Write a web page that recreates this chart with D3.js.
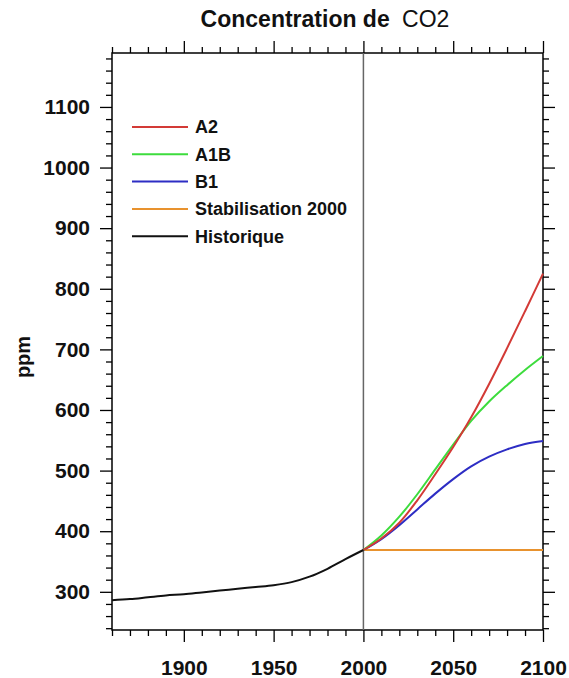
<!DOCTYPE html>
<html>
<head>
<meta charset="utf-8">
<script src="https://cdn.jsdelivr.net/npm/d3@7"></script>
<style>
  body { margin: 0; background: #fff; }
  svg { display: block; font-family: "Liberation Sans", Arial, sans-serif; }
</style>
</head>
<body>
<script>
const width = 569;
const height = 678;
const plot = { left: 112, right: 543, top: 53, bottom: 630 };

// historique
const histYears = [1860, 1870, 1880, 1890, 1900, 1910, 1920, 1930, 1940, 1950, 1960, 1970, 1980, 1990, 2000];
const historique = [286, 288, 291, 294, 296, 299, 302, 305, 308, 311, 316, 325, 338, 354, 369];

// scénarios
const scenYears = [2000, 2010, 2020, 2030, 2040, 2050, 2060, 2070, 2080, 2090, 2100];
const a2 = [369, 388, 414, 451, 494, 539, 588, 643, 702, 763, 825];
const a1b = [369, 393, 424, 461, 502, 543, 582, 614, 641, 666, 689];
const b1 = [369, 387, 410, 436, 462, 486, 507, 523, 535, 544, 549];
const stab = [369, 369, 369, 369, 369, 369, 369, 369, 369, 369, 369];

const xTicks = [1900, 1950, 2000, 2050, 2100];
const yTicks = [300, 400, 500, 600, 700, 800, 900, 1000, 1100];

const legendNames = ["A2", "A1B", "B1", "Stabilisation 2000", "Historique"];
const colors = ["#d33a36", "#3ddc3d", "#2d2dc4", "#e8922e", "#111111"];

const series = [
  { name: "A2", years: scenYears, values: a2 },
  { name: "A1B", years: scenYears, values: a1b },
  { name: "B1", years: scenYears, values: b1 },
  { name: "Stabilisation 2000", years: scenYears, values: stab },
  { name: "Historique", years: histYears, values: historique }
];

const svg = d3.select("body").append("svg")
  .attr("width", width)
  .attr("height", height);

const x = d3.scaleLinear().domain([1860, 2100]).range([plot.left, plot.right]);
const y = d3.scaleLinear().domain([237, 1189]).range([plot.bottom, plot.top]);

const minorX = d3.range(1860, 2101, 10).filter(v => !xTicks.includes(v));
const minorY = d3.range(240, 1189, 20).filter(v => !yTicks.includes(v));

function styleAxis(g) {
  g.select(".domain").remove();
  g.selectAll("line").attr("stroke", "#000").attr("stroke-width", 1.3);
  g.selectAll("text")
    .attr("font-family", "'Liberation Sans', Arial, sans-serif")
    .attr("font-size", 21)
    .attr("font-weight", "bold")
    .attr("fill", "#111");
}

// axes, ticks vers l'extérieur
const axes = [
  { ax: d3.axisBottom, pos: `translate(0,${plot.bottom})`, scale: x, major: xTicks, minor: minorX, labels: true, pad: 18 },
  { ax: d3.axisTop, pos: `translate(0,${plot.top})`, scale: x, major: xTicks, minor: minorX, labels: false },
  { ax: d3.axisLeft, pos: `translate(${plot.left},0)`, scale: y, major: yTicks, minor: minorY, labels: true, pad: 10 },
  { ax: d3.axisRight, pos: `translate(${plot.right},0)`, scale: y, major: yTicks, minor: minorY, labels: false }
];

axes.forEach(a => {
  svg.append("g").attr("transform", a.pos)
    .call(a.ax(a.scale).tickValues(a.minor).tickSize(6).tickFormat(""))
    .call(styleAxis);
  const major = a.ax(a.scale).tickValues(a.major).tickSize(12)
    .tickFormat(a.labels ? d3.format("d") : "");
  if (a.pad) major.tickPadding(a.pad);
  svg.append("g").attr("transform", a.pos)
    .call(major)
    .call(styleAxis);
});

// cadre
svg.append("rect")
  .attr("x", plot.left)
  .attr("y", plot.top)
  .attr("width", plot.right - plot.left)
  .attr("height", plot.bottom - plot.top)
  .attr("fill", "none")
  .attr("stroke", "#000")
  .attr("stroke-width", 1.5);

// ligne verticale 2000
svg.append("line")
  .attr("x1", x(2000)).attr("x2", x(2000))
  .attr("y1", plot.top).attr("y2", plot.bottom)
  .attr("stroke", "#666")
  .attr("stroke-width", 1.5);

const line = d3.line()
  .x(d => x(d[0]))
  .y(d => y(d[1]))
  .curve(d3.curveCatmullRom.alpha(0.5));

// ordre de tracé : stabilisation, B1, A1B, A2, historique
[3, 2, 1, 0, 4].forEach(i => {
  const s = series[i];
  svg.append("path")
    .datum(d3.zip(s.years, s.values))
    .attr("fill", "none")
    .attr("stroke", colors[i])
    .attr("stroke-width", 2)
    .attr("d", line);
});

// légende
const legend = svg.append("g");
legendNames.forEach((name, i) => {
  const ly = 127 + i * 27.3;
  legend.append("line")
    .attr("x1", 132).attr("x2", 188)
    .attr("y1", ly).attr("y2", ly)
    .attr("stroke", colors[i])
    .attr("stroke-width", 2);
  legend.append("text")
    .attr("x", 195)
    .attr("y", ly)
    .attr("dy", "0.35em")
    .attr("font-size", 18)
    .attr("font-weight", "bold")
    .attr("fill", "#111")
    .text(name);
});

// titre
const title = svg.append("text")
  .attr("x", 325)
  .attr("y", 27)
  .attr("text-anchor", "middle")
  .attr("font-size", 23)
  .attr("fill", "#111");
title.append("tspan").attr("font-weight", "bold").text("Concentration de ");
title.append("tspan").attr("dx", 6).text("CO2");

// axe y
svg.append("text")
  .attr("transform", "translate(30,357) rotate(-90)")
  .attr("text-anchor", "middle")
  .attr("font-size", 20)
  .attr("font-weight", "bold")
  .attr("fill", "#111")
  .text("ppm");
</script>
</body>
</html>
